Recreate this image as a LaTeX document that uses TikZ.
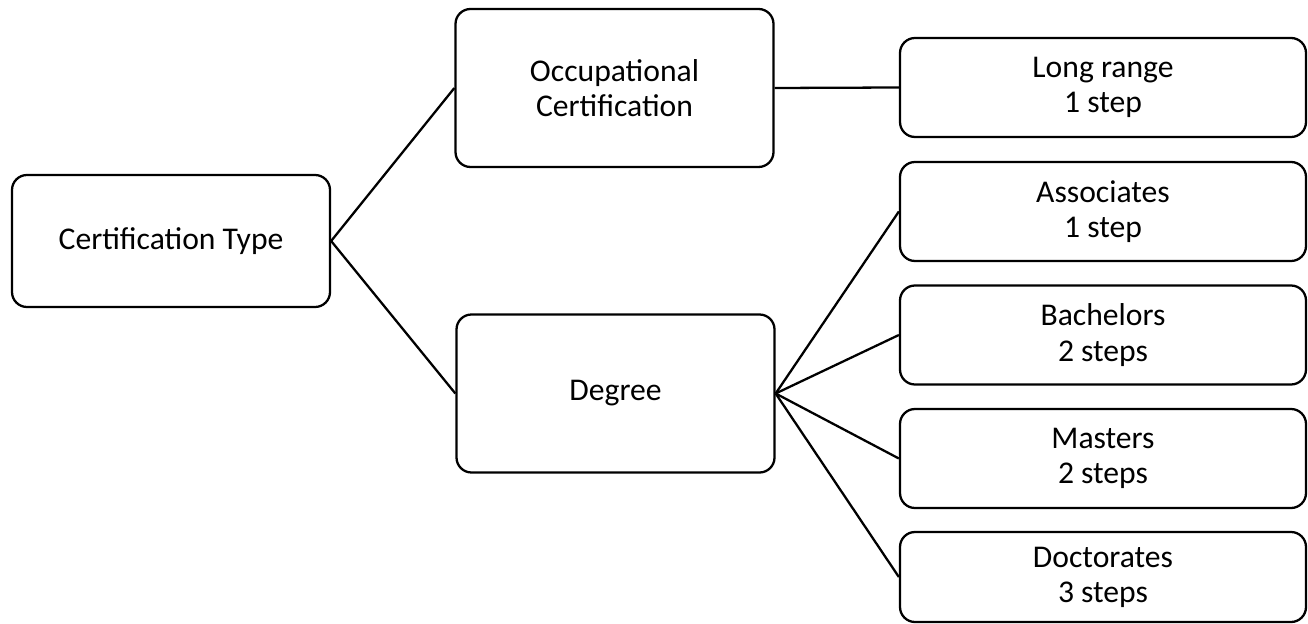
\documentclass[tikz,border=0pt]{standalone}
\usepackage{fontspec}
\setmainfont{Carlito}
\begin{document}
\begin{tikzpicture}
    \tikzset{box/.style=  {draw,
                           rectangle,
                           rounded corners=0.3cm,
                           line width=1.3pt,
                           align=center,
                           font=\fontsize{18}{20}\selectfont,
                           minimum width=6.36cm,
                           minimum height=3.16cm},
             leaf/.style= {box,
                           minimum width=8.12cm,
                           minimum height=1.98cm},
             link/.style= {line width=1.3pt},
            }
    \useasboundingbox (0,0) rectangle (26.16,-12.48);
    \path
    (3.42,-4.82)   node[box,minimum height=2.64cm](c) {Certification Type}
    (12.29,-1.76)  node[box](o) {Occupational\\Certification}
    (12.31,-7.87)  node[box](d) {Degree}
    (22.06,-1.75)  node[leaf](l) {Long range\\1 step}
    (22.06,-4.23)  node[leaf](a) {Associates\\1 step}
    (22.06,-6.70)  node[leaf](b) {Bachelors\\2 steps}
    (22.06,-9.17)  node[leaf](m) {Masters\\2 steps}
    (22.06,-11.54) node[leaf,minimum height=1.80cm](p) {Doctorates\\3 steps}
    ;
    \draw[link] (c.east) -- (o.west);
    \draw[link] (c.east) -- (d.west);
    \draw[link] (o.east) -- (l.west);
    \draw[link] (d.east) -- (a.west);
    \draw[link] (d.east) -- (b.west);
    \draw[link] (d.east) -- (m.west);
    \draw[link] (d.east) -- (p.west);
\end{tikzpicture}
\end{document}
